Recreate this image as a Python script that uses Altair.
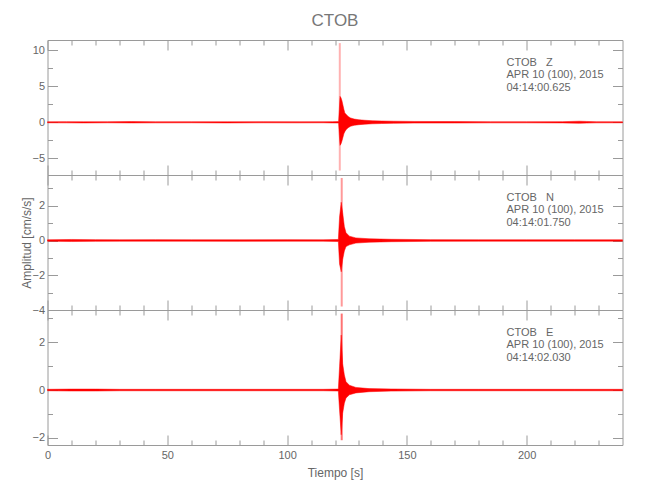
import altair as alt
import pandas as pd

FONT = "Liberation Sans, Arial, sans-serif"
GRAY = "#9a9a9a"
TXT = "#666666"
RED = "#ff0000"

TIME_MAX = 240

# ---- envelope of each trace (time [s], upper, lower) ----
z_t = [0, 8, 15, 25, 35, 45, 60, 75, 90, 105, 115, 119, 121.5, 121.8, 122.1, 122.5, 122.9, 123.3, 123.7, 124.1,
       124.7, 125.5, 126.5, 128.0, 130.0, 132.5, 135.5, 139.5, 144.5, 153.0, 170.0, 185.0, 200.0, 215.0, 222.0,
       225.0, 229.0, 240.0]
z_up = [0.07, 0.09, 0.07, 0.08, 0.10, 0.07, 0.08, 0.07, 0.09, 0.07, 0.08, 0.09, 0.10, 1.8, 3.6, 3.4, 3.0, 2.4,
        1.8, 1.3, 1.1, 0.8, 0.6, 0.45, 0.35, 0.28, 0.22, 0.18, 0.15, 0.12, 0.10, 0.08, 0.08, 0.09, 0.15, 0.12,
        0.08, 0.07]
z_lo = [-0.07, -0.08, -0.09, -0.07, -0.09, -0.08, -0.07, -0.09, -0.07, -0.08, -0.07, -0.09, -0.10, -1.8, -3.2,
        -3.0, -2.6, -2.1, -1.6, -1.3, -1.0, -0.75, -0.55, -0.42, -0.33, -0.26, -0.21, -0.17, -0.14, -0.11, -0.10,
        -0.08, -0.08, -0.09, -0.14, -0.11, -0.08, -0.07]

n_t = [0, 10, 20, 30, 45, 60, 80, 100, 115, 121.4, 121.9, 122.6, 123.2, 123.9, 124.6, 126.0, 128.7, 134.2, 143.4,
       160.0, 180.0, 200.0, 220.0, 240.0]
n_up = [0.04, 0.06, 0.05, 0.04, 0.05, 0.04, 0.04, 0.05, 0.04, 0.06, 1.35, 2.2, 1.6, 0.8, 0.45, 0.25, 0.15, 0.10,
        0.07, 0.05, 0.04, 0.04, 0.04, 0.04]
n_lo = [-0.04, -0.06, -0.05, -0.04, -0.04, -0.04, -0.05, -0.04, -0.04, -0.06, -1.35, -1.8, -1.1, -0.6, -0.35,
        -0.25, -0.15, -0.10, -0.07, -0.05, -0.04, -0.04, -0.04, -0.04]

e_t = [0, 10, 20, 30, 45, 60, 80, 100, 115, 121.4, 121.9, 122.6, 123.2, 123.9, 124.6, 126.0, 128.7, 134.2, 143.4,
       160.0, 180.0, 200.0, 220.0, 240.0]
e_up = [0.03, 0.04, 0.04, 0.03, 0.03, 0.03, 0.03, 0.03, 0.03, 0.04, 0.97, 2.3, 1.1, 0.63, 0.35, 0.20, 0.11, 0.06,
        0.045, 0.03, 0.03, 0.03, 0.03, 0.03]
e_lo = [-0.03, -0.04, -0.04, -0.03, -0.03, -0.03, -0.03, -0.03, -0.03, -0.04, -0.83, -1.87, -0.97, -0.55, -0.33,
        -0.20, -0.12, -0.07, -0.045, -0.03, -0.03, -0.03, -0.03, -0.03]

# ---- main spike of each trace ----
spike_t = [122.0, 122.8, 122.8]
spike_max = [11.0, 3.6, 3.2]
spike_min = [-6.7, -3.8, -2.1]

# ---- axes ----
y_domains = [[-7.32, 11.43], [-4.0, 3.77], [-2.30, 3.35]]
y_major = [[-5, 0, 5, 10], [-4, -2, 0, 2], [-2, 0, 2]]
y_minor = [[-2.5, 2.5, 7.5], [-3, -1, 1, 3], [-1, 1, 3]]
x_major = [0, 50, 100, 150, 200]
x_minor = [10, 20, 30, 40, 60, 70, 80, 90, 110, 120, 130, 140, 160, 170, 180, 190, 210, 220, 230]

# ---- annotations ----
ann = [
    ["CTOB\u00a0\u00a0\u00a0Z", "APR 10 (100), 2015", "04:14:00.625"],
    ["CTOB\u00a0\u00a0\u00a0N", "APR 10 (100), 2015", "04:14:01.750"],
    ["CTOB\u00a0\u00a0\u00a0E", "APR 10 (100), 2015", "04:14:02.030"],
]

W, H = 575, 135


def panel(i, t, up, lo, spike_opacity, bottom, ytitle):
    df = pd.DataFrame({"t": t, "up": up, "lo": lo})
    xs = alt.Scale(domain=[0, TIME_MAX], nice=False, zero=False)
    ys = alt.Scale(domain=y_domains[i], nice=False, zero=False)
    base = alt.Chart(df)

    if bottom:
        xaxis = alt.Axis(orient="bottom", values=x_major, ticks=False, tickSize=0, domain=False, grid=False,
                         labelPadding=4, labelFlush=False, title="Tiempo [s]", titlePadding=7,
                         titleFontSize=12)
    else:
        xaxis = None
    yaxis = alt.Axis(orient="left", values=y_major[i], ticks=False, tickSize=0, domain=False, grid=False,
                     labelPadding=3, format="d", title=ytitle if ytitle else None, titleFontSize=12,
                     titlePadding=-2)

    area = base.mark_area(color=RED, stroke=RED, strokeWidth=0.5).encode(
        x=alt.X("t:Q", scale=xs, axis=xaxis),
        y=alt.Y("up:Q", scale=ys, axis=yaxis),
        y2="lo:Q",
    )

    sp = alt.Chart(pd.DataFrame({"t": [spike_t[i]], "hi": [spike_max[i]], "lo": [spike_min[i]]})).mark_rule(
        color=RED, strokeWidth=2, opacity=spike_opacity
    ).encode(
        x=alt.X("t:Q", scale=xs, axis=None),
        y=alt.Y("hi:Q", scale=ys, axis=None),
        y2="lo:Q",
    )

    def ticks(ox, oy, xv, yv, size):
        return base.mark_point(opacity=0).encode(
            x=alt.X("t:Q", scale=xs, axis=alt.Axis(orient=ox, values=xv, tickSize=size, offset=-size,
                                                   labels=False, domain=False, grid=False, title=None,
                                                   tickColor=GRAY)),
            y=alt.Y("up:Q", scale=ys, axis=alt.Axis(orient=oy, values=yv, tickSize=size, offset=-size,
                                                    labels=False, domain=False, grid=False, title=None,
                                                    tickColor=GRAY)),
        )

    t1 = ticks("bottom", "left", x_major, y_major[i], 10)
    t2 = ticks("top", "right", x_major, y_major[i], 10)
    t3 = ticks("bottom", "left", x_minor, y_minor[i], 5)
    t4 = ticks("top", "right", x_minor, y_minor[i], 5)

    txt = alt.Chart(pd.DataFrame({"k": [0]})).mark_text(
        text=ann[i], align="left", baseline="middle", font=FONT, fontSize=11, lineHeight=12.3, color=TXT
    ).encode(x=alt.value(459), y=alt.value(23))

    return alt.layer(area, sp, t1, t2, t3, t4, txt).resolve_axis(x="independent", y="independent").properties(
        width=W, height=H
    )


p1 = panel(0, z_t, z_up, z_lo, 0.3, False, None)
p2 = panel(1, n_t, n_up, n_lo, 0.4, False, "Amplitud [cm/s/s]")
p3 = panel(2, e_t, e_up, e_lo, 0.55, True, None)

chart = alt.vconcat(p1, p2, p3, spacing=0, bounds="flush").properties(
    title=alt.TitleParams("CTOB", font=FONT, fontSize=17, color="#777777", fontWeight="normal",
                          anchor="middle", frame="group", offset=9),
    padding={"left": 11.5, "top": 4, "right": 5, "bottom": 5},
).configure_view(stroke=GRAY, strokeWidth=1).configure_axis(
    labelFont=FONT, labelColor=TXT, labelFontSize=11, titleFont=FONT, titleColor=TXT,
    titleFontWeight="normal", grid=False
)

chart.save("out.html", embed_options={"renderer": "svg", "actions": False})
